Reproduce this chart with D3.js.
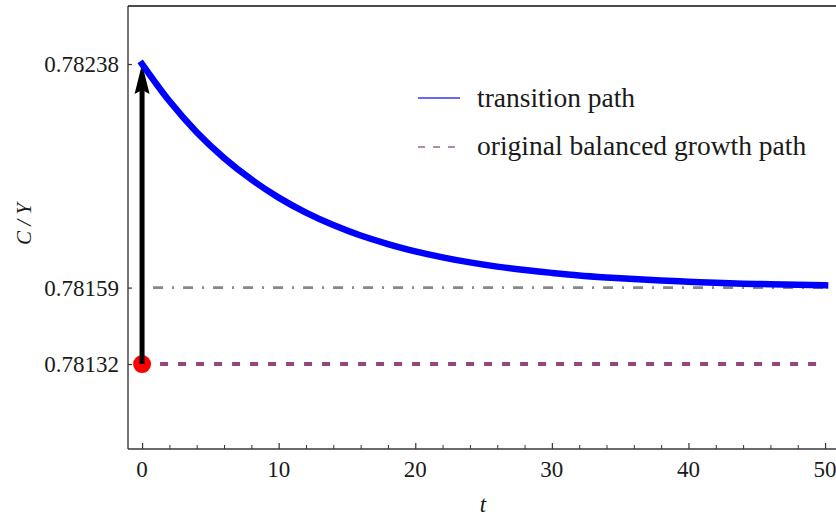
<!DOCTYPE html>
<html>
<head>
<meta charset="utf-8">
<script src="https://cdn.jsdelivr.net/npm/d3@7"></script>
<style>
  html, body { margin: 0; padding: 0; background: #fff; }
  svg { display: block; }
  text { font-family: "Liberation Serif", "Times New Roman", serif; fill: #1a1a1a; }
</style>
</head>
<body>
<svg id="chart" width="836" height="516"></svg>
<script>
// Consumption–output ratio C/Y along the transition path after the shock
const timeSteps = [0, 2, 4, 6, 8, 10, 12, 14, 16, 18, 20, 22, 24, 26, 28, 30, 32, 34, 36, 38, 40, 42, 44, 46, 48, 50];
const transitionCY = [0.782380, 0.782249, 0.782139, 0.782048, 0.781972, 0.781908, 0.781855, 0.781811,
  0.781774, 0.781744, 0.781718, 0.781697, 0.781679, 0.781664, 0.781652, 0.781642, 0.781633, 0.781626,
  0.781620, 0.781615, 0.781611, 0.781607, 0.781604, 0.781602, 0.781600, 0.781598];

const originalCY = 0.78132;   // original balanced growth path
const newCY = 0.78159;        // new balanced growth path
const jumpCY = 0.78238;       // value right after the jump

const yTickValues = [0.78132, 0.78159, 0.78238];
const xTickValues = [0, 10, 20, 30, 40, 50];
const xMinorTicks = [2, 4, 6, 8, 12, 14, 16, 18, 22, 24, 26, 28, 32, 34, 36, 38, 42, 44, 46, 48];
const tDomain = [-1.03, 50.8];
const cyDomain = [0.7810197, 0.782585];

const legendLabels = ["transition path", "original balanced growth path"];

const svg = d3.select("#chart");
const plotL = 128, plotR = 836, plotT = 6, plotB = 449;

const x = d3.scaleLinear().domain(tDomain).range([plotL, plotR]);
const y = d3.scaleLinear().domain(cyDomain).range([plotB, plotT]);

// frame: left and top edges
svg.append("line").attr("x1", plotL).attr("x2", plotL).attr("y1", plotT).attr("y2", plotB)
  .attr("stroke", "#3a3a3a").attr("stroke-width", 1.4);
svg.append("line").attr("x1", plotL).attr("x2", 836).attr("y1", plotT).attr("y2", plotT)
  .attr("stroke", "#111").attr("stroke-width", 1.6);

// x axis with inward ticks
const xAxis = svg.append("g").attr("transform", `translate(0,${plotB})`)
  .call(d3.axisTop(x).tickValues(xTickValues).tickSize(6).tickFormat(""));
xAxis.select(".domain").remove();
xAxis.selectAll(".tick line").attr("stroke", "#333").attr("stroke-width", 1.2);
const xMinor = svg.append("g").attr("transform", `translate(0,${plotB})`)
  .call(d3.axisTop(x).tickValues(xMinorTicks).tickSize(4).tickFormat(""));
xMinor.select(".domain").remove();
xMinor.selectAll(".tick line").attr("stroke", "#333").attr("stroke-width", 1);
svg.append("line").attr("x1", plotL).attr("x2", 836).attr("y1", plotB).attr("y2", plotB)
  .attr("stroke", "#3a3a3a").attr("stroke-width", 1.4);
svg.append("g").selectAll("text").data(xTickValues).join("text")
  .attr("x", d => x(d)).attr("y", plotB + 28)
  .attr("text-anchor", "middle").attr("font-size", 23)
  .text(d => d);

// y axis with inward ticks
const yAxis = svg.append("g").attr("transform", `translate(${plotL},0)`)
  .call(d3.axisRight(y).tickValues(yTickValues).tickSize(4).tickFormat(""));
yAxis.select(".domain").remove();
yAxis.selectAll(".tick line").attr("stroke", "#333").attr("stroke-width", 1.2);
svg.append("g").selectAll("text").data(yTickValues).join("text")
  .attr("x", plotL - 9).attr("y", d => y(d) + 8)
  .attr("text-anchor", "end").attr("font-size", 23)
  .text(d => d.toFixed(5));

// axis titles
svg.append("text").attr("x", 483).attr("y", 512).attr("text-anchor", "middle")
  .attr("font-size", 23).attr("font-style", "italic").text("t");
svg.append("text").attr("transform", "translate(31,224) rotate(-90)")
  .attr("text-anchor", "middle").attr("font-size", 21).attr("font-style", "italic")
  .attr("fill", "#333").text("C / Y");

// original balanced growth path (dashed)
svg.append("line").attr("x1", x(0)).attr("x2", x(50))
  .attr("y1", y(originalCY)).attr("y2", y(originalCY))
  .attr("stroke", "#954680").attr("stroke-width", 4).attr("stroke-dasharray", "8,10");

// new balanced growth path (dash-dot)
svg.append("line").attr("x1", x(0)).attr("x2", x(50))
  .attr("y1", y(newCY)).attr("y2", y(newCY))
  .attr("stroke", "#888").attr("stroke-width", 2.6).attr("stroke-dasharray", "2,9,10,9");

// starting point
svg.append("circle").attr("cx", x(0)).attr("cy", y(originalCY)).attr("r", 9).attr("fill", "#ff0000");

// jump arrow
const ax = x(0), ay0 = y(originalCY), ay1 = y(jumpCY);
svg.append("line").attr("x1", ax).attr("x2", ax).attr("y1", ay0).attr("y2", ay1 + 26)
  .attr("stroke", "#000").attr("stroke-width", 5);
svg.append("path")
  .attr("d", `M${ax},${ay1} L${ax - 7.5},${ay1 + 30} L${ax},${ay1 + 26} L${ax + 7.5},${ay1 + 30} Z`)
  .attr("fill", "#000");

// transition path
const line = d3.line().x((d, i) => x(timeSteps[i])).y(d => y(d)).curve(d3.curveMonotoneX);
svg.append("path").datum(transitionCY).attr("d", line)
  .attr("fill", "none").attr("stroke", "#0000ff").attr("stroke-width", 6.5)
  .attr("stroke-linecap", "square");

// legend
const legend = svg.append("g");
legend.append("line").attr("x1", 418).attr("x2", 460).attr("y1", 98).attr("y2", 98)
  .attr("stroke", "#3434ff").attr("stroke-width", 1.5);
legend.append("line").attr("x1", 418).attr("x2", 460).attr("y1", 147).attr("y2", 147)
  .attr("stroke", "#a0628f").attr("stroke-width", 1.5).attr("stroke-dasharray", "7,8");
legend.selectAll("text").data(legendLabels).join("text")
  .attr("x", 477).attr("y", (d, i) => 107 + i * 48)
  .attr("font-size", 27.5).text(d => d);
</script>
</body>
</html>
